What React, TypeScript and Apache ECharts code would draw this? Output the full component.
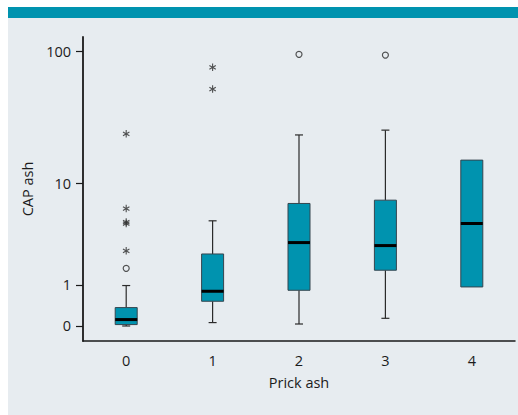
import React, { useEffect, useRef } from "react";
import * as echarts from "echarts";

// Categories (Prick ash)
const CATEGORIES = ["0", "1", "2", "3", "4"];

// Box statistics, CAP ash (raw units)
const MINS = [0.0, 0.059, 0.034, 0.138, 0.929];
const Q1S = [0.024, 0.516, 0.824, 1.556, 0.929];
const MEDIANS = [0.114, 0.794, 3.07, 2.87, 4.61];
const Q3S = [0.363, 2.36, 6.86, 7.31, 15.3];
const MAXS = [0.975, 4.87, 23.9, 26.0, 15.3];

// Outliers (circles)
const CIRCLE_CAT = [0, 2, 3];
const CIRCLE_VAL = [1.64, 95.7, 94.5];

// Extreme outliers (asterisks)
const STAR_CAT = [0, 0, 0, 0, 0, 1, 1];
const STAR_VAL = [2.54, 4.6, 4.75, 6.22, 24.4, 52.9, 76.7];

// Y tick labels
const Y_TICKS = [0, 1, 10, 100];

const TEAL = "#0093AF";
const BG = "#E7ECF0";
const FONT = "'Open Sans', 'Noto Sans', sans-serif";
const TEXT = "#1c1c1c";

const tf = (v: number) => Math.log10(v + 1);
const inv = (t: number) => Math.pow(10, t) - 1;

const STAR_PATH =
  "path://M-0.6,-4L0.6,-4L0.6,4L-0.6,4Z" +
  "M3.164,2.52L-3.764,-1.48L-3.164,-2.52L3.764,1.48Z" +
  "M-3.164,2.52L-3.764,1.48L3.164,-2.52L3.764,-1.48Z";

export default function App() {
  const ref = useRef<HTMLDivElement>(null);

  useEffect(() => {
    document.body.style.margin = "0";
    if (!ref.current) return;
    const chart = echarts.init(ref.current, undefined, { renderer: "svg" });

    const boxData = CATEGORIES.map((_, i) => [
      i,
      tf(MINS[i]),
      tf(Q1S[i]),
      tf(MEDIANS[i]),
      tf(Q3S[i]),
      tf(MAXS[i]),
    ]);

    const renderItem = (params: any, api: any) => {
      const x = api.value(0);
      const pMin = api.coord([x, api.value(1)]);
      const pQ1 = api.coord([x, api.value(2)]);
      const pMed = api.coord([x, api.value(3)]);
      const pQ3 = api.coord([x, api.value(4)]);
      const pMax = api.coord([x, api.value(5)]);
      const cx = pMed[0];
      const hw = 11;
      const cap = 4;
      const wStyle = { stroke: "#2b2b2b", lineWidth: 1.2 };
      const children: any[] = [];
      if (pMax[1] < pQ3[1] - 0.5) {
        children.push({ type: "line", shape: { x1: cx, y1: pMax[1], x2: cx, y2: pQ3[1] }, style: wStyle });
        children.push({ type: "line", shape: { x1: cx - cap, y1: pMax[1], x2: cx + cap, y2: pMax[1] }, style: wStyle });
      }
      if (pMin[1] > pQ1[1] + 0.5) {
        children.push({ type: "line", shape: { x1: cx, y1: pQ1[1], x2: cx, y2: pMin[1] }, style: wStyle });
        children.push({ type: "line", shape: { x1: cx - cap, y1: pMin[1], x2: cx + cap, y2: pMin[1] }, style: wStyle });
      }
      children.push({
        type: "rect",
        shape: { x: cx - hw, y: pQ3[1], width: hw * 2, height: pQ1[1] - pQ3[1] },
        style: { fill: TEAL, stroke: "#35454f", lineWidth: 1 },
      });
      children.push({
        type: "line",
        shape: { x1: cx - hw, y1: pMed[1], x2: cx + hw, y2: pMed[1] },
        style: { stroke: "#000", lineWidth: 3 },
      });
      return { type: "group", children };
    };

    chart.setOption({
      animation: false,
      backgroundColor: "transparent",
      grid: { left: 83, right: 3, top: 37, bottom: 74 },
      xAxis: {
        type: "category",
        data: CATEGORIES,
        boundaryGap: true,
        name: "Prick ash",
        nameLocation: "middle",
        nameGap: 34,
        nameTextStyle: { fontFamily: FONT, fontSize: 14.5, color: TEXT },
        axisLine: { onZero: false, lineStyle: { color: "#1a1a1a", width: 1.5 } },
        axisTick: { alignWithLabel: true, length: 7, lineStyle: { color: "#1a1a1a", width: 2 } },
        axisLabel: { fontFamily: FONT, fontSize: 14.5, color: TEXT, margin: 12 },
        splitLine: { show: false },
      },
      yAxis: {
        type: "value",
        min: -0.1097,
        max: 2.112,
        name: "CAP ash",
        nameLocation: "middle",
        nameGap: 42,
        nameTextStyle: { fontFamily: FONT, fontSize: 14.5, color: TEXT },
        axisLine: { show: true, onZero: false, lineStyle: { color: "#1a1a1a", width: 1.8 } },
        axisTick: {
          show: true,
          length: 7,
          customValues: Y_TICKS.map(tf),
          lineStyle: { color: "#1a1a1a", width: 1.2 },
        },
        axisLabel: {
          fontFamily: FONT,
          fontSize: 14.5,
          color: TEXT,
          margin: 12,
          customValues: Y_TICKS.map(tf),
          formatter: (v: number) => String(Math.round(inv(v))),
        },
        splitLine: { show: false },
      },
      series: [
        {
          type: "custom",
          renderItem,
          data: boxData,
          encode: { x: 0, y: [1, 2, 3, 4, 5] },
          z: 2,
        },
        {
          type: "scatter",
          data: CIRCLE_CAT.map((c, i) => [c, tf(CIRCLE_VAL[i])]),
          symbol: "circle",
          symbolSize: 6,
          itemStyle: { color: "transparent", borderColor: "#2b2b2b", borderWidth: 1.2 },
          z: 3,
        },
        {
          type: "scatter",
          data: STAR_CAT.map((c, i) => [c, tf(STAR_VAL[i])]),
          symbol: STAR_PATH,
          symbolSize: [7, 7.5],
          itemStyle: { color: "#2b2b2b" },
          z: 3,
        },
      ],
    });

    return () => chart.dispose();
  }, []);

  return (
    <div style={{ position: "relative", width: 518, height: 415, background: "#fff", overflow: "hidden" }}>
      <div style={{ position: "absolute", left: 8, top: 7, width: 510, height: 408, background: BG }} />
      <div style={{ position: "absolute", left: 8, top: 7, width: 510, height: 11, background: TEAL }} />
      <div ref={ref} style={{ position: "absolute", left: 0, top: 0, width: 518, height: 415 }} />
    </div>
  );
}
